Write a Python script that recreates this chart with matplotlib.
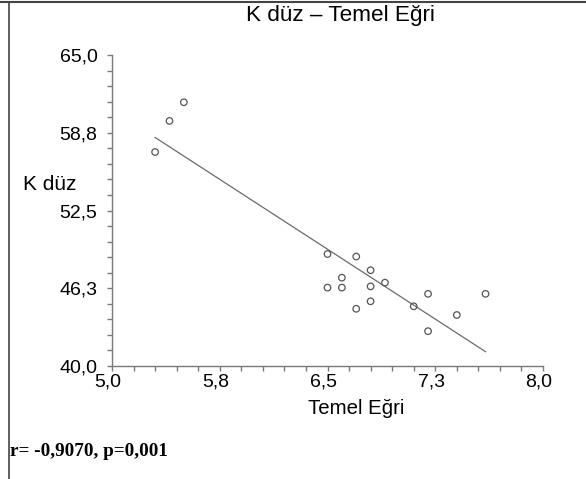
import numpy as np
import matplotlib
matplotlib.use("Agg")
import matplotlib.pyplot as plt
from matplotlib.lines import Line2D
from matplotlib.transforms import ScaledTranslation

# Data
temel_egri = [5.5, 5.4, 5.3, 6.5, 6.7, 6.8, 6.6, 6.5, 6.6, 6.8, 6.9, 7.2, 7.6, 6.8, 6.7, 7.1, 7.4, 7.2]
k_duz = [61.2, 59.7, 57.2, 49.0, 48.8, 47.7, 47.1, 46.3, 46.3, 46.4, 46.7, 45.8, 45.8, 45.2, 44.6, 44.8, 44.1, 42.8]
x_ticks = [5.0, 5.75, 6.5, 7.25, 8.0]
x_tick_labels = ["5,0", "5,8", "6,5", "7,3", "8,0"]
y_ticks = [40.0, 46.25, 52.5, 58.75, 65.0]
y_tick_labels = ["40,0", "46,3", "52,5", "58,8", "65,0"]
title = "K düz – Temel Eğri"
xlabel = "Temel Eğri"
ylabel = "K düz"
stats_text = "r= -0,9070, p=0,001"

plt.rcParams['font.family'] = ['Liberation Sans', 'DejaVu Sans']

W, H = 586, 479
fig = plt.figure(figsize=(W / 100, H / 100), dpi=100)
ax = fig.add_axes([112 / W, 1 - 366 / H, (543 - 112) / W, (366 - 55) / H])

gray = "#7a7a7a"
ax.scatter(temel_egri, k_duz, s=22, facecolors="none", edgecolors="#555555", linewidths=0.9, zorder=3)

x = np.array(temel_egri)
y = np.array(k_duz)
b, a = np.polyfit(x, y, 1)
xs = np.array([x.min(), x.max()])
ax.plot(xs, a + b * xs, color="#6a6a6a", lw=0.9)

ax.set_xlim(5.0, 8.0)
ax.set_ylim(40.0, 65.0)
ax.set_xticks(x_ticks)
ax.set_xticklabels(x_tick_labels)
ax.set_yticks(y_ticks)
ax.set_yticklabels(y_tick_labels)
ax.set_xticks(np.arange(0, 21) * 0.15 + 5.0, minor=True)
ax.set_yticks(np.arange(0, 21) * 1.25 + 40.0, minor=True)
for side in ["top", "right"]:
    ax.spines[side].set_visible(False)
for side in ["left", "bottom"]:
    ax.spines[side].set_color(gray)
    ax.spines[side].set_linewidth(1.0)
ax.tick_params(which="both", direction="out", length=3.6, width=1.0, color=gray)
ax.tick_params(axis="both", which="major", labelsize=14, colors=gray, labelcolor="black")
ax.tick_params(axis="y", which="major", pad=6.8)
ax.tick_params(axis="x", which="major", pad=2.0)
shift = ScaledTranslation(-4 / 100, 0, fig.dpi_scale_trans)
for lbl in ax.get_xticklabels():
    lbl.set_transform(lbl.get_transform() + shift)

fig.text(340 / W, 1 - 15 / H, title, ha="center", va="center", fontsize=16.2)
fig.text(356 / W, 1 - 408 / H, xlabel, ha="center", va="center", fontsize=14.7)
fig.text(23 / W, 1 - 184 / H, ylabel, ha="left", va="center", fontsize=15)
fig.text(10 / W, 1 - 452 / H, stats_text, ha="left", va="center", fontsize=13.8,
         fontweight="bold", family=["Liberation Serif", "DejaVu Serif"])

# figure frame (top and left edges)
fig.add_artist(Line2D([0, 1], [1 - 2 / H, 1 - 2 / H], transform=fig.transFigure, color="#444444", lw=1.5))
fig.add_artist(Line2D([8.5 / W, 8.5 / W], [0, 1 - 2 / H], transform=fig.transFigure, color="#444444", lw=1.2))

fig.savefig("out.png", dpi=100)
